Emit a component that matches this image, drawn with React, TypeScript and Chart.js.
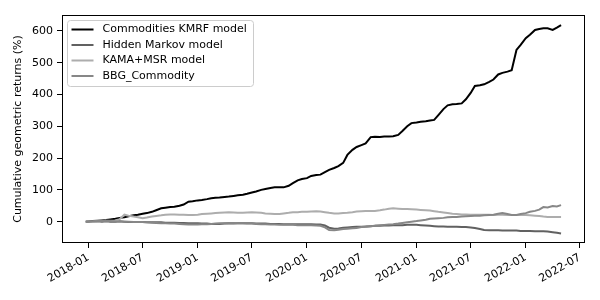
import React, { useEffect, useRef } from "react";
import { Chart, registerables } from "chart.js";

Chart.register(...registerables);

const dates: string[] = [
  "2017-12-23",
  "2018-01-01","2018-01-15","2018-02-01","2018-02-15","2018-03-01","2018-03-15","2018-04-01","2018-04-15","2018-05-01","2018-05-15","2018-06-01","2018-06-15",
  "2018-07-01","2018-07-15","2018-08-01","2018-08-15","2018-09-01","2018-09-15","2018-10-01","2018-10-15","2018-11-01","2018-11-15","2018-12-01","2018-12-15",
  "2019-01-01","2019-01-15","2019-02-01","2019-02-15","2019-03-01","2019-03-15","2019-04-01","2019-04-15","2019-05-01","2019-05-15","2019-06-01","2019-06-15",
  "2019-07-01","2019-07-15","2019-08-01","2019-08-15","2019-09-01","2019-09-15","2019-10-01","2019-10-15","2019-11-01","2019-11-15","2019-12-01","2019-12-15",
  "2020-01-01","2020-01-15","2020-02-01","2020-02-15","2020-03-01","2020-03-15","2020-04-01","2020-04-15","2020-05-01","2020-05-15","2020-06-01","2020-06-15",
  "2020-07-01","2020-07-15","2020-08-01","2020-08-15","2020-09-01","2020-09-15","2020-10-01","2020-10-15","2020-11-01","2020-11-15","2020-12-01","2020-12-15",
  "2021-01-01","2021-01-15","2021-02-01","2021-02-15","2021-03-01","2021-03-15","2021-04-01","2021-04-15","2021-05-01","2021-05-15","2021-06-01","2021-06-15",
  "2021-07-01","2021-07-15","2021-08-01","2021-08-15","2021-09-01","2021-09-15","2021-10-01","2021-10-15","2021-11-01","2021-11-15","2021-12-01","2021-12-15",
  "2022-01-01","2022-01-15","2022-02-01","2022-02-15","2022-03-01","2022-03-15","2022-04-01","2022-04-15","2022-04-29",
];

const kmrfValues: number[] = [
  0,
  1, 2, 3, 4, 5, 7, 9, 12, 14, 17, 20, 22,
  25, 27, 31, 36, 42, 44, 46, 47, 50, 54, 63, 64,
  67, 68, 71, 74, 75, 76, 78, 79, 81, 83, 85, 88,
  92, 95, 100, 103, 106, 108, 108, 108, 113, 121, 130, 134,
  137, 144, 147, 148, 156, 163, 169, 175, 185, 210, 226, 235,
  241, 246, 266, 267, 266, 268, 268, 269, 273, 285, 300, 310,
  312, 314, 316, 318, 320, 335, 354, 366, 369, 370, 372, 385,
  405, 427, 429, 432, 440, 447, 463, 468, 472, 476, 540, 556,
  577, 588, 603, 606, 608, 608, 603, 610, 618,
];

const hmmValues: number[] = [
  0,
  0, 1, 1, 0, 1, 0, 0, 1, 0, -1, -1, -1,
  -1, -2, -2, -2, -2, -3, -3, -3, -4, -4, -5, -5,
  -5, -6, -6, -7, -7, -7, -6, -6, -6, -5, -5, -5,
  -5, -6, -6, -6, -7, -7, -7, -8, -8, -8, -8, -8,
  -8, -8, -9, -9, -12, -19, -22, -21, -19, -18, -17, -16,
  -16, -15, -14, -13, -13, -12, -12, -11, -11, -11, -10, -10,
  -10, -11, -12, -13, -14, -15, -15, -16, -16, -16, -17, -17,
  -18, -20, -23, -26, -27, -27, -27, -28, -28, -28, -28, -29,
  -29, -29, -30, -30, -30, -31, -33, -35, -37,
];

const kamaValues: number[] = [
  0,
  1, 1, 2, 2, 3, 3, 4, 8, 22, 19, 16, 14,
  11, 13, 16, 18, 20, 22, 23, 23, 22, 22, 21, 21,
  22, 24, 25, 26, 27, 28, 29, 30, 29, 28, 28, 29,
  30, 29, 28, 26, 25, 24, 24, 26, 28, 30, 30, 31,
  31, 32, 33, 32, 30, 28, 26, 26, 27, 28, 30, 32,
  33, 34, 34, 34, 36, 38, 41, 42, 41, 40, 40, 39,
  38, 37, 36, 35, 33, 31, 29, 27, 25, 24, 23, 23,
  22, 22, 22, 22, 22, 21, 22, 22, 21, 21, 21, 21,
  21, 20, 19, 18, 16, 15, 15, 15, 15,
];

const bbgValues: number[] = [
  0,
  0, 1, 2, 2, 3, 2, 1, 1, 0, 0, -1, -1,
  -1, -2, -3, -4, -5, -5, -6, -6, -7, -8, -9, -9,
  -9, -8, -8, -7, -6, -5, -5, -4, -4, -5, -5, -6,
  -6, -7, -8, -8, -9, -9, -10, -10, -10, -10, -11, -11,
  -11, -11, -12, -13, -18, -26, -27, -25, -23, -22, -21, -20,
  -17, -16, -14, -13, -11, -10, -9, -8, -6, -4, -2, 0,
  2, 4, 6, 9, 10, 11, 12, 14, 15, 15, 16, 17,
  18, 19, 19, 20, 21, 22, 25, 27, 24, 21, 21, 24,
  27, 31, 34, 38, 46, 45, 49, 48, 52,
];

const seriesNames: string[] = [
  "Commodities KMRF model",
  "Hidden Markov model",
  "KAMA+MSR model",
  "BBG_Commodity",
];

const xTickLabels: string[] = [
  "2018-01", "2018-07", "2019-01", "2019-07", "2020-01",
  "2020-07", "2021-01", "2021-07", "2022-01", "2022-07",
];

const yTickValues: number[] = [0, 100, 200, 300, 400, 500, 600];

const colors = ["#000000", "#616161", "#adadad", "#878787"];
const FONT = "DejaVu Sans";

const EPOCH = Date.UTC(2018, 0, 1);
function toDays(s: string): number {
  const p = s.split("-").map(Number);
  const d = p.length > 2 ? p[2] : 1;
  return (Date.UTC(p[0], p[1] - 1, d) - EPOCH) / 86400000;
}

const framePlugin = {
  id: "frame",
  afterDatasetsDraw(chart: any) {
    const { ctx, chartArea } = chart;
    ctx.save();
    ctx.strokeStyle = "#000";
    ctx.lineWidth = 1;
    ctx.strokeRect(
      Math.round(chartArea.left) + 0.5,
      Math.round(chartArea.top) + 0.5,
      Math.round(chartArea.right - chartArea.left) - 1,
      Math.round(chartArea.bottom - chartArea.top) - 1
    );
    ctx.restore();
  },
};

const legendPlugin = {
  id: "mplLegend",
  afterDraw(chart: any) {
    const { ctx, chartArea } = chart;
    const x0 = chartArea.left + 5.5;
    const y0 = chartArea.top + 5.5;
    const w = 186;
    const h = 66;
    ctx.save();
    ctx.beginPath();
    const r = 3;
    ctx.moveTo(x0 + r, y0);
    ctx.lineTo(x0 + w - r, y0);
    ctx.arcTo(x0 + w, y0, x0 + w, y0 + r, r);
    ctx.lineTo(x0 + w, y0 + h - r);
    ctx.arcTo(x0 + w, y0 + h, x0 + w - r, y0 + h, r);
    ctx.lineTo(x0 + r, y0 + h);
    ctx.arcTo(x0, y0 + h, x0, y0 + h - r, r);
    ctx.lineTo(x0, y0 + r);
    ctx.arcTo(x0, y0, x0 + r, y0, r);
    ctx.closePath();
    ctx.fillStyle = "rgba(255,255,255,0.8)";
    ctx.fill();
    ctx.strokeStyle = "#cccccc";
    ctx.lineWidth = 1;
    ctx.stroke();
    ctx.font = `11px "${FONT}"`;
    ctx.textBaseline = "middle";
    ctx.textAlign = "left";
    seriesNames.forEach((name, i) => {
      const cy = y0 + 9 + i * 15.5;
      ctx.beginPath();
      ctx.strokeStyle = colors[i];
      ctx.lineWidth = 2;
      ctx.moveTo(x0 + 4, cy);
      ctx.lineTo(x0 + 26, cy);
      ctx.stroke();
      ctx.fillStyle = "#000";
      ctx.fillText(name, x0 + 35, cy);
    });
    ctx.restore();
  },
};

export default function App() {
  const ref = useRef<HTMLCanvasElement | null>(null);

  useEffect(() => {
    if (!ref.current) return;
    const xs = dates.map(toDays);
    const all = [kmrfValues, hmmValues, kamaValues, bbgValues];
    const datasets = all.map((vals, i) => ({
      label: seriesNames[i],
      data: vals.map((v, j) => ({ x: xs[j], y: v })),
      borderColor: colors[i],
      backgroundColor: colors[i],
      borderWidth: 2,
      pointRadius: 0,
      tension: 0,
      fill: false,
      order: 4 - i,
    }));

    const chart = new Chart(ref.current, {
      type: "line",
      data: { datasets },
      plugins: [framePlugin, legendPlugin],
      options: {
        animation: false,
        responsive: false,
        devicePixelRatio: 1,
        layout: { padding: { left: 0, top: 15, right: 15, bottom: 0 } },
        plugins: {
          legend: { display: false },
          tooltip: { enabled: false },
        },
        scales: {
          x: {
            type: "linear",
            min: -88.5,
            max: 1659,
            border: { display: false },
            grid: {
              drawOnChartArea: false,
              drawTicks: true,
              tickLength: 5,
              color: "#000",
            },
            ticks: {
              color: "#000",
              font: { family: FONT, size: 11 },
              maxRotation: 30,
              minRotation: 30,
              padding: 3,
              autoSkip: false,
              callback: (v: any) => {
                const i = xTickLabels.findIndex((s) => toDays(s) === v);
                return i >= 0 ? xTickLabels[i] : "";
              },
            },
            afterBuildTicks: (scale: any) => {
              scale.ticks = xTickLabels.map((s) => ({ value: toDays(s) }));
            },
            afterFit: (scale: any) => {
              scale.height = 57;
            },
          },
          y: {
            type: "linear",
            min: -67,
            max: 650,
            border: { display: false },
            grid: {
              drawOnChartArea: false,
              drawTicks: true,
              tickLength: 5,
              color: "#000",
            },
            ticks: {
              color: "#000",
              font: { family: FONT, size: 11 },
              padding: 4,
            },
            afterBuildTicks: (scale: any) => {
              scale.ticks = yTickValues.map((v) => ({ value: v }));
            },
            afterFit: (scale: any) => {
              scale.width = 62;
            },
            title: {
              display: true,
              text: "Cumulative geometric returns (%)",
              color: "#000",
              font: { family: FONT, size: 11 },
              padding: { top: 12, bottom: 0 },
            },
          },
        },
      },
    } as any);
    return () => chart.destroy();
  }, []);

  return (
    <div
      style={{
        position: "fixed",
        left: 0,
        top: 0,
        width: 600,
        height: 300,
        background: "#fff",
      }}
    >
      <canvas ref={ref} width={600} height={300} />
    </div>
  );
}
